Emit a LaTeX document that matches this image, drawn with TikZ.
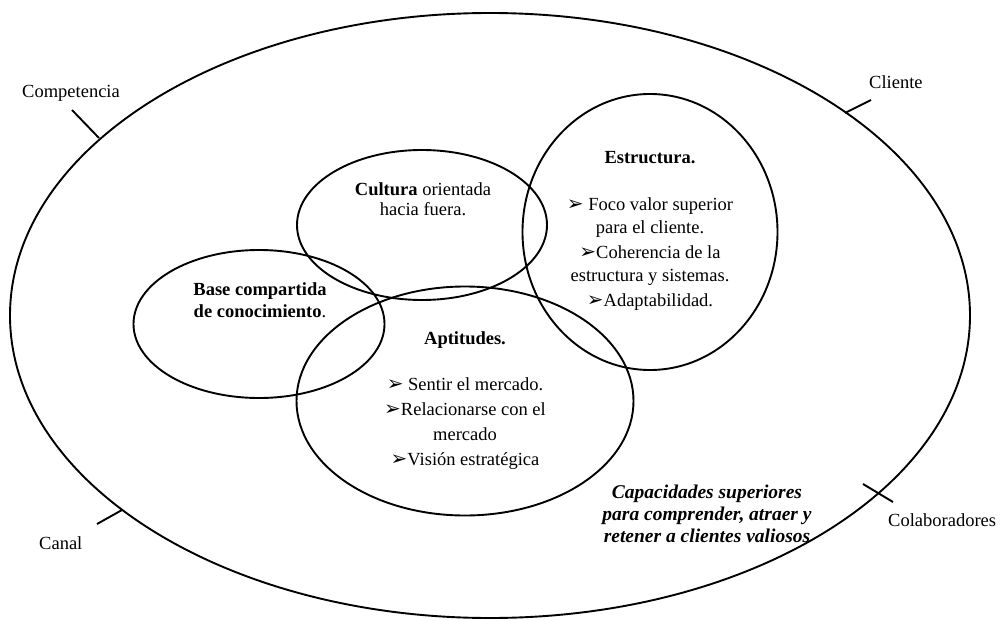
\documentclass[tikz,border=0pt]{standalone}
\usepackage{fontspec}
\setmainfont{Liberation Serif}
\newfontfamily\symfont{DejaVu Sans}
\usetikzlibrary{shapes.geometric}
\newcommand{\bul}{{\symfont\fontsize{20}{20}\selectfont\char"27A2}}
\begin{document}
\begin{tikzpicture}[x=1pt,y=-1pt,
  ring/.style={draw,ellipse,line width=1.9pt,inner sep=0pt},
  txt/.style={align=center,font=\fontsize{18.5}{23}\selectfont,inner sep=0pt},
  lbl/.style={font=\fontsize{18.5}{20}\selectfont,inner sep=0pt},
  tick/.style={line width=1.9pt}]
\useasboundingbox (0,0) rectangle (1004,621);
% environment and the four capability circles
\node[ring,minimum width=960pt,minimum height=605pt] (outer) at (490,315.5) {};
\node[ring,minimum width=250pt,minimum height=150pt] (cult) at (422,225) {};
\node[ring,minimum width=255pt,minimum height=276pt] (estr) at (650,232) {};
\node[ring,minimum width=251pt,minimum height=148pt] (base) at (259,324) {};
\node[ring,minimum width=337pt,minimum height=229pt] (apt) at (465,401) {};
% circle contents
\node[txt,font=\fontsize{18.5}{20}\selectfont] (tcult) at (423,199) {\textbf{Cultura} orientada\\hacia fuera.};
\node[txt] (testrh) at (650,158) {\textbf{Estructura.}};
\node[txt] (testr) at (650,254) {\bul{} Foco valor superior\\para el cliente.\\[2pt]\bul Coherencia de la\\estructura y sistemas.\\[2pt]\bul Adaptabilidad.};
\node[txt,font=\fontsize{18.5}{22}\selectfont] (tbase) at (260,300) {\textbf{Base compartida}\\\textbf{de conocimiento}.};
\node[txt] (tapth) at (465,340) {\textbf{Aptitudes.}};
\node[txt,font=\fontsize{18.5}{25}\selectfont] (tapt) at (465,424) {\bul{} Sentir el mercado.\\\bul Relacionarse con el\\mercado\\\bul Visión estratégica};
\node[txt,font=\fontsize{19.5}{22}\selectfont\bfseries\itshape] (tcap) at (707,514) {Capacidades superiores\\para comprender, atraer y\\retener a clientes valiosos};
% outer labels with their pointer ticks
\node[lbl,anchor=west] (lcomp) at (22,93) {Competencia};
\node[lbl,anchor=west] (lcli) at (869,82) {Cliente};
\node[lbl,anchor=west] (lcan) at (39,543) {Canal};
\node[lbl,anchor=west] (lcol) at (888,520) {Colaboradores};
\coordinate (c1) at (72,110); \coordinate (c2) at (99,138);
\coordinate (k1) at (871,100); \coordinate (k2) at (845,113);
\coordinate (n1) at (97,524); \coordinate (n2) at (122,510);
\coordinate (o1) at (863,484); \coordinate (o2) at (893,502);
\draw[tick] (c1) -- (c2);
\draw[tick] (k1) -- (k2);
\draw[tick] (n1) -- (n2);
\draw[tick] (o1) -- (o2);
\end{tikzpicture}
\end{document}
